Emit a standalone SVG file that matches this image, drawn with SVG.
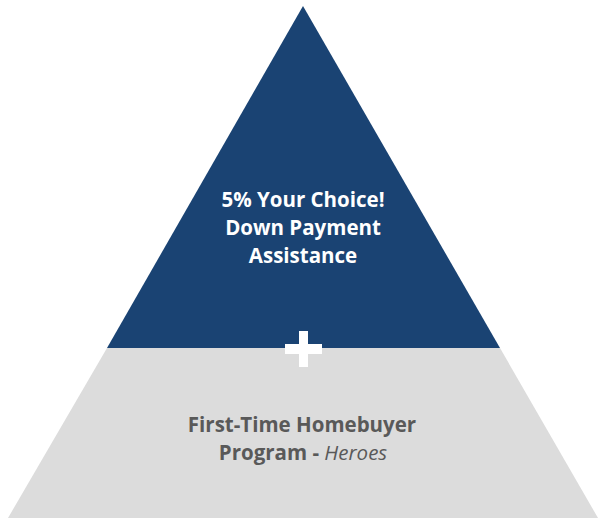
<svg xmlns="http://www.w3.org/2000/svg" width="598" height="520" viewBox="0 0 598 520">
  <style>
    .t { font-family: "Open Sans", "Noto Sans", "Liberation Sans", sans-serif; font-size: 20.5px; text-anchor: middle; font-weight: 700; }
    .w { fill: #ffffff; }
    .g { fill: #595959; }
    .it { font-style: italic; font-weight: 400; }
  </style>
  <rect width="598" height="520" fill="#ffffff"/>
  <g id="base">
    <polygon points="107,348 500,348 598,518 8,518" fill="#dcdcdc"/>
    <text class="t g" x="302" y="432">First-Time Homebuyer</text>
    <text class="t g" x="303" y="460">Program - <tspan class="it">Heroes</tspan></text>
  </g>
  <g id="top">
    <polygon points="303,6 500,348 107,348" fill="#1a4373"/>
    <text class="t w" x="303" y="207">5% Your Choice!</text>
    <text class="t w" x="303" y="235">Down Payment</text>
    <text class="t w" x="303" y="263">Assistance</text>
  </g>
  <g id="plus">
    <rect x="299" y="331" width="9" height="36" fill="#ffffff"/>
    <rect x="285" y="344" width="37" height="10" fill="#ffffff"/>
  </g>
</svg>
